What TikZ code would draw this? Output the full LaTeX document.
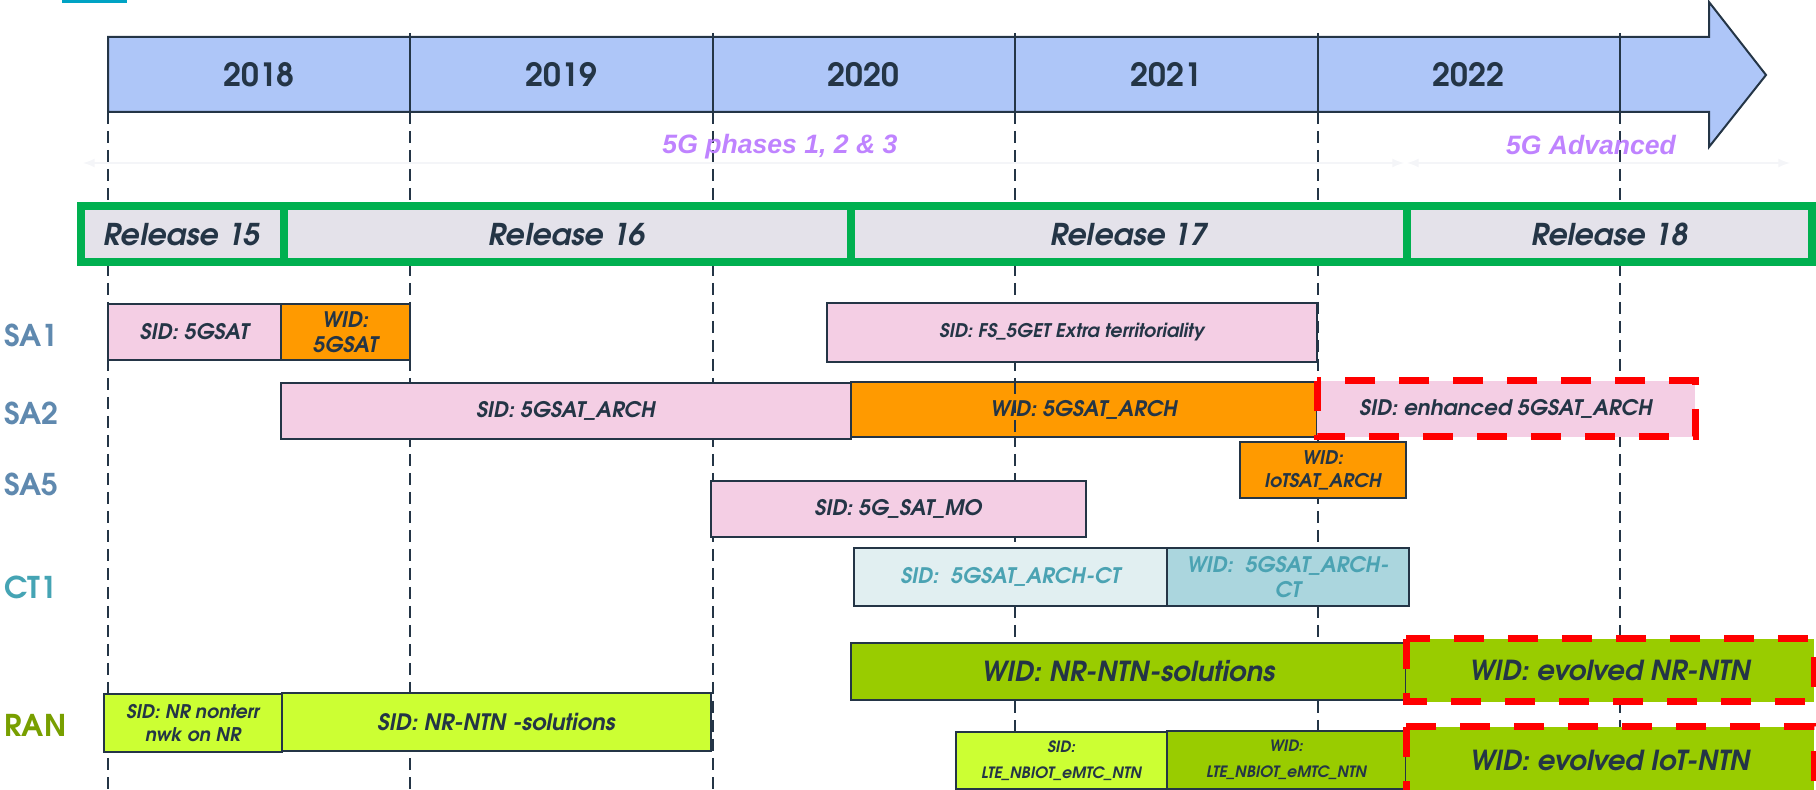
\documentclass[tikz,border=0pt]{standalone}
\usepackage{fontspec}
\setmainfont{texgyreadventor}[Extension=.otf, UprightFont=*-regular, BoldFont=*-bold, ItalicFont=*-italic, BoldItalicFont=*-bolditalic]
\newfontfamily\arialfont{Liberation Sans}
\definecolor{ink}{HTML}{243546}
\definecolor{barblue}{HTML}{AEC6F8}
\definecolor{relgray}{HTML}{E4E2EA}
\definecolor{relgreen}{HTML}{00B050}
\definecolor{pinkbox}{HTML}{F4CEE4}
\definecolor{orangebox}{HTML}{FF9A00}
\definecolor{limebox}{HTML}{CCFF33}
\definecolor{olivebox}{HTML}{99CC00}
\definecolor{paleteal}{HTML}{E1EFF1}
\definecolor{midteal}{HTML}{ABD6DE}
\definecolor{tealtext}{HTML}{4BA3B3}
\definecolor{hotred}{HTML}{FF0000}
\definecolor{violet}{HTML}{BF83FF}
\definecolor{sablue}{HTML}{5F89AF}
\definecolor{ctteal}{HTML}{45A4B4}
\definecolor{rangreen}{HTML}{789F00}
\definecolor{faint}{HTML}{F4F5F8}
\definecolor{topline}{HTML}{00A3C4}
\def\yr{302.4}

\begin{document}
\begin{tikzpicture}[x=0.5pt, y=-0.5pt,
  year/.style={text=ink, font=\bfseries\fontsize{16}{18}\selectfont},
  rel/.style={draw=relgreen, line width=4pt, fill=relgray},
  reltxt/.style={text=ink, font=\bfseries\itshape\fontsize{15}{18}\selectfont},
  group/.style={anchor=west, inner sep=0pt, font=\bfseries\fontsize{15}{18}\selectfont},
  task/.style={draw=ink, line width=1.2pt},
  hot/.style={draw=hotred, line width=3.5pt, dash pattern=on 15pt off 12pt},
  lbl/.style={text=ink, align=center, inner sep=0pt, font=\bfseries\itshape\fontsize{10.7}{12.5}\selectfont},
  lblS/.style={lbl, font=\bfseries\itshape\fontsize{9.4}{11.5}\selectfont},
  lblT/.style={lbl, font=\bfseries\itshape\fontsize{7.8}{13}\selectfont},
  lblL/.style={lbl, font=\bfseries\itshape\fontsize{13.8}{16}\selectfont},
  grid/.style={ink, line width=1pt, dash pattern=on 6pt off 3.5pt},
  phase/.style={text=violet, font=\arialfont\bfseries\itshape\fontsize{13.3}{15}\selectfont}]
  \clip (0,0) rectangle (1816,790);
  \draw[topline, line width=1.8pt] (62,1.5) -- (127,1.5);
  % time line
  \draw[ink, line width=1pt, fill=barblue] (108,37) -- (1709,37) -- (1709,2) -- (1766,75)
    -- (1709,147) -- (1709,112) -- (108,112) -- cycle;
  \foreach \i in {0,...,5}{
    \draw[grid] ({108+\yr*\i},112) -- ({108+\yr*\i},790);
  }
  \foreach \i in {1,...,5}{
    \draw[ink, line width=1pt] ({108+\yr*\i},33) -- ({108+\yr*\i},112);
  }
  \foreach \y [count=\i from 0] in {2018,...,2022}{
    \node[year] (y\y) at ({259+\yr*\i},75) {\y};
  }
  \draw[faint, line width=1pt, <->, >=latex] (83,163) -- (1404,163);
  \draw[faint, line width=1pt, <->, >=latex] (1407,163) -- (1790,163);
  \node[phase] (ph123) at (780,147) {5G phases 1, 2 \& 3};
  \node[phase] (adv) at (1591,145) {5G Advanced};
  % releases
  \foreach \a/\b/\n in {81/283.5/15, 283.5/851/16, 851/1407/17, 1407/1812/18}{
    \draw[rel] (\a,206) rectangle (\b,262.5) node[midway, reltxt] (rel\n) {Release \n};
  }
  % groups
  \node[group, text=sablue] (sa1) at (4,335) {SA1};
  \node[group, text=sablue] (sa2) at (4,413) {SA2};
  \node[group, text=sablue] (sa5) at (4,484) {SA5};
  \node[group, text=ctteal] (ct1) at (4,587) {CT1};
  \node[group, text=rangreen] (ran) at (4,725) {RAN};
  % SA1
  \draw[task, fill=pinkbox] (108,304) rectangle (281,360) node[midway, lbl] (sa1sid) {SID: 5GSAT};
  \draw[task, fill=orangebox] (281,304) rectangle (410,360) node[midway, lbl] (sa1wid) {WID:\\5GSAT};
  \draw[task, fill=pinkbox] (827,303) rectangle (1317,362) node[midway, lblS] (sa1fs) {SID: FS\_5GET Extra territoriality};
  % SA2
  \draw[task, fill=pinkbox] (281,383) rectangle (851,439) node[midway, lbl] (sa2sid) {SID: 5GSAT\_ARCH};
  \draw[task, fill=orangebox] (851,382) rectangle (1317,437) node[midway, lbl] (sa2wid) {WID: 5GSAT\_ARCH};
  \draw[grid] ({108+\yr*3},382) -- ({108+\yr*3},437);
  \draw[hot, fill=pinkbox] (1317,381) rectangle (1695,437) node[midway, lbl] (sa2enh) {SID: enhanced 5GSAT\_ARCH};
  \draw[task, fill=orangebox] (1240,442) rectangle (1406,498) node[midway, lblS] (sa2iot) {WID:\\IoTSAT\_ARCH};
  % SA5
  \draw[task, fill=pinkbox] (711,481) rectangle (1086,537) node[midway, lbl] (sa5sid) {SID: 5G\_SAT\_MO};
  % CT1
  \draw[task, fill=paleteal] (854,548) rectangle (1167,606) node[midway, lbl, text=tealtext] (ct1sid) {SID:\ \ 5GSAT\_ARCH-CT};
  \draw[task, fill=midteal] (1167,548) rectangle (1409,606) node[midway, lbl, text=tealtext] (ct1wid) {WID:\ \ 5GSAT\_ARCH-\\CT};
  % RAN
  \draw[task, fill=olivebox] (851,643) rectangle (1406,700) node[midway, lblL] (ranwid) {WID: NR-NTN-solutions};
  \draw[hot, fill=olivebox] (1406,639) rectangle (1814,702) node[midway, lblL] (ranevo) {WID: evolved NR-NTN};
  \draw[task, fill=limebox] (104,694) rectangle (282,752) node[midway, lblS] (rannon) {SID: NR nonterr\\nwk on NR};
  \draw[task, fill=limebox] (282,693) rectangle (711,751) node[midway, lbl, font=\bfseries\itshape\fontsize{11.3}{13}\selectfont] (ransid) {SID: NR-NTN -solutions};
  \draw[task, fill=limebox] (956,732) rectangle (1167,789) node[midway, lblT] (ranlsid) {SID:\\LTE\_NBIOT\_eMTC\_NTN};
  \draw[task, fill=olivebox] (1167,731) rectangle (1406,789) node[midway, lblT] (ranlwid) {WID:\\LTE\_NBIOT\_eMTC\_NTN};
  \draw[hot, fill=olivebox] (1406,727) rectangle (1814,793) node[midway, lblL] (raniot) {WID: evolved IoT-NTN};
\end{tikzpicture}
\end{document}
